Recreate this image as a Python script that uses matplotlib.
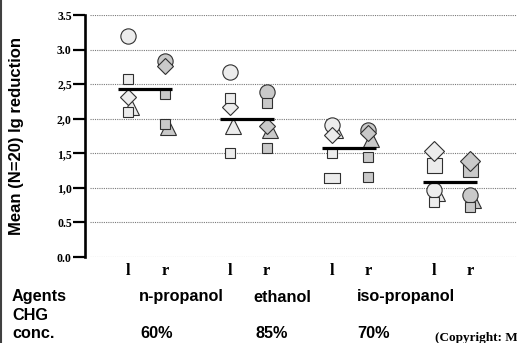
import matplotlib
matplotlib.use("Agg")
import matplotlib.pyplot as plt
import numpy as np
from matplotlib.lines import Line2D

# ---------------- data ----------------
group_pos = [0, 1, 2, 3]
side_labels = ["l", "r"]
y_ticks = [0.0, 0.5, 1.0, 1.5, 2.0, 2.5, 3.0, 3.5]
y_tick_labels = ["0.0", "0.5", "1,0", "1,5", "2,0", "2,5", "3.0", "3.5"]

circle_l = [3.19, 2.68, 1.91, 0.97]
circle_r = [2.83, 2.39, 1.84, 0.90]
diamond_l = [2.32, 2.17, 1.77, 1.54]
diamond_r = [2.76, 1.90, 1.79, 1.39]
triangle_l = [2.17, 1.89, 1.84, 0.93]
triangle_r = [1.88, 1.83, 1.70, 0.83]
squareA_l = [2.58, 2.30, 1.51, 1.33]
squareA_r = [2.36, 2.23, 1.45, 1.27]
squareB_l = [2.09, 1.51, 1.14, 0.80]
squareB_r = [1.93, 1.58, 1.16, 0.72]
means = [2.43, 2.00, 1.58, 1.09]

agents = ["n-propanol", "ethanol", "iso-propanol"]
concentrations = ["60%", "85%", "70%"]

# ---------------- style ----------------
W, H = 517, 343
AX_L = 85
fig = plt.figure(figsize=(W / 100, H / 100), dpi=100)
ax = fig.add_axes([AX_L / W, (H - 257) / H, (W - AX_L) / W, 242 / H])

off = 0.18
fill_l = "#ececec"
fill_r = "#c9c9c9"
edge = "#303030"

dia_ms = [7.8, 7.8, 7.8, 10.5]
dia_z = [5, 5, 5, 7]
sqA_ms = [7.5, 7.5, 7.5, 10.8]
sqB_ms = [7.5, 7.5, 7.5, 7.5]

rect_marker = [(-0.75, -0.5), (0.75, -0.5), (0.75, 0.5), (-0.75, 0.5), (-0.75, -0.5)]

xs_l = np.array(group_pos) - off
xs_r = np.array(group_pos) + off

for side, xs, fill, tri, cir, dia, sa, sb in [
    ("l", xs_l, fill_l, triangle_l, circle_l, diamond_l, squareA_l, squareB_l),
    ("r", xs_r, fill_r, triangle_r, circle_r, diamond_r, squareA_r, squareB_r),
]:
    for i in range(len(group_pos)):
        kw = dict(linestyle="none", markerfacecolor=fill, markeredgecolor=edge,
                  markeredgewidth=0.8)
        ax.plot(xs[i] + 0.03, tri[i], marker="^", markersize=11, zorder=3, **kw)
        ax.plot(xs[i], cir[i], marker="o", markersize=11, zorder=4, **kw)
        ax.plot(xs[i], dia[i], marker="D", markersize=dia_ms[i], zorder=dia_z[i], **kw)
        ax.plot(xs[i], sa[i], marker="s", markersize=sqA_ms[i], zorder=6, **kw)
        if side == "l" and i == 2:
            ax.plot(xs[i], sb[i], marker=rect_marker, markersize=11, zorder=6, **kw)
        else:
            ax.plot(xs[i], sb[i], marker="s", markersize=sqB_ms[i], zorder=6, **kw)

for i, m in enumerate(means):
    ax.hlines(m, group_pos[i] - 0.28, group_pos[i] + 0.25, color="black",
              linewidth=2.3, zorder=8)

ax.set_ylim(0, 3.5)
ax.set_xlim(-0.604, 3.64)

for yv in y_ticks:
    ax.axhline(yv, xmin=5 / (W - AX_L), color="#7a7a7a", linewidth=0.8,
               linestyle=(0, (1, 1)), zorder=1)

for s in ["top", "right", "bottom"]:
    ax.spines[s].set_visible(False)
ax.spines["left"].set_linewidth(1.9)
ax.set_yticks(y_ticks)
ax.set_yticklabels(y_tick_labels, fontfamily="Liberation Serif", fontweight="bold",
                   fontsize=8.5)
ax.tick_params(axis="y", direction="out", length=8.5, width=1.6, pad=1)

xt = list(xs_l) + list(xs_r)
xl = [side_labels[0]] * 4 + [side_labels[1]] * 4
ax.set_xticks(xt)
ax.set_xticklabels(xl, fontfamily="Liberation Serif", fontweight="bold", fontsize=12)
ax.tick_params(axis="x", length=0, pad=4)

fig.text(17 / W, 1 - 136 / H, "Mean (N=20) lg reduction", rotation=90,
         ha="center", va="center", fontfamily="Liberation Sans",
         fontweight="bold", fontsize=12)

sans = dict(fontfamily="Liberation Sans", fontweight="bold", fontsize=11.7, va="center")
fig.text(12 / W, 1 - 297 / H, "Agents", ha="left", **sans)
fig.text(12 / W, 1 - 315 / H, "CHG", ha="left", **sans)
fig.text(12 / W, 1 - 333 / H, "conc.", ha="left", **sans)
for name, xp in zip(agents, [139, 253, 357]):
    fig.text(xp / W, 1 - 297 / H, name, ha="left", **sans)
for c, xp in zip(concentrations, [140, 256, 357]):
    fig.text(xp / W, 1 - 333 / H, c, ha="left", **sans)

fig.text(435 / W, 1 - 338 / H, "(Copyright: M", ha="left", va="center",
         fontfamily="Liberation Serif", fontweight="bold", fontsize=9.5)

fig.add_artist(Line2D([1 / W, 1 / W], [0, 1], color="#404040", linewidth=1.5,
                      transform=fig.transFigure))

fig.savefig("out.png", dpi=100)
